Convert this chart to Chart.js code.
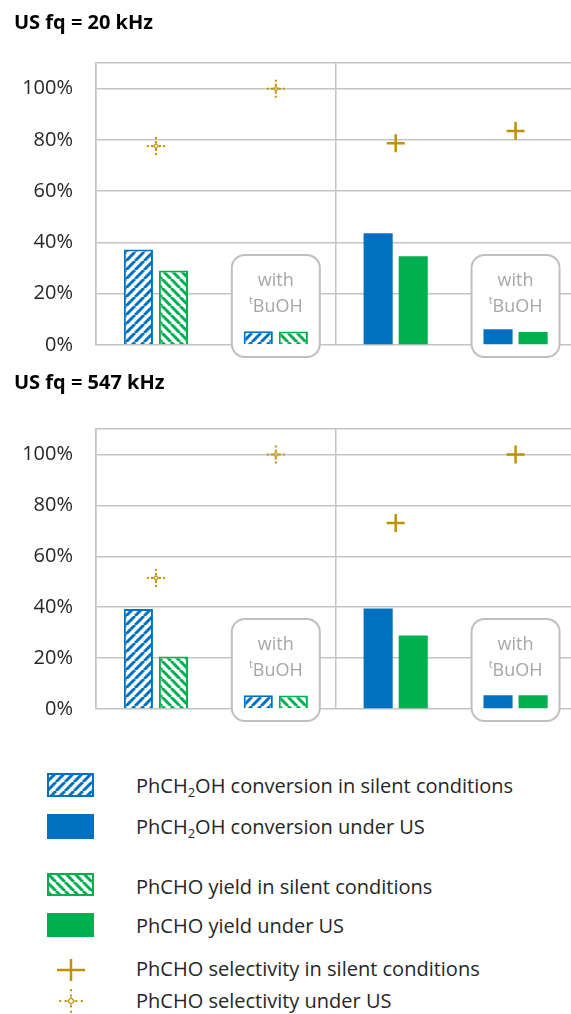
<!DOCTYPE html>
<html><head><meta charset="utf-8">
<script src="https://cdn.jsdelivr.net/npm/chart.js@4"></script>
<style>
html,body{margin:0;padding:0;background:#fff;width:571px;height:1014px;overflow:hidden;position:relative;}
.wrap{position:absolute;left:0;width:587px;}
#w1{top:0;height:380px;}
#w2{top:364px;height:380px;}
.lg-text{position:absolute;left:136px;transform:translateY(-50%);white-space:nowrap;font-family:'Open Sans',sans-serif;font-size:20px;color:#262626;line-height:1;}
.lg-text sub{font-size:13px;vertical-align:-4px;line-height:0;}
.sw{position:absolute;}
</style></head><body>
<div class="wrap" id="w1"><canvas id="c1"></canvas></div>
<div class="wrap" id="w2"><canvas id="c2"></canvas></div>
<div id="legend"></div>
<script>
// ---------- data ----------
const categories = ['silent', 'silent + tBuOH', 'US', 'US + tBuOH'];
const yTickValues = [0, 20, 40, 60, 80, 100];
const titles = ['US fq = 20 kHz', 'US fq = 547 kHz'];
const conv20  = [37.3, 5.4, 43.6, 6.1];
const yield20 = [29.1, 5.3, 34.6, 5.1];
const sel20   = [77.6, 100, 78.7, 83.5];
const conv547  = [39.3, 5.4, 39.5, 5.4];
const yield547 = [20.6, 5.3, 28.9, 5.4];
const sel547   = [51.5, 100, 73.1, 100];
const hatchedGroups = [true, true, false, false];
const boxGroups = [1, 3];
const legendLabels = [
  'PhCH<sub>2</sub>OH conversion in silent conditions',
  'PhCH<sub>2</sub>OH conversion under US',
  'PhCHO yield in silent conditions',
  'PhCHO yield under US',
  'PhCHO selectivity in silent conditions',
  'PhCHO selectivity under US'
];

// ---------- styles ----------
const BLUE = '#0070C0', GREEN = '#00B050', GOLD = '#BF9000', GRID = '#C4C4C4';
const FONT = "'Open Sans', sans-serif";

function makeHatchTile(color, up) {
  const s = 9, c = document.createElement('canvas'); c.width = s; c.height = s;
  const g = c.getContext('2d');
  g.fillStyle = '#fff'; g.fillRect(0, 0, s, s);
  g.strokeStyle = color; g.lineWidth = 3;
  g.beginPath();
  for (const k of [-s, 0, s]) {
    if (up) { g.moveTo(k, s); g.lineTo(k + s, 0); }
    else { g.moveTo(k, 0); g.lineTo(k + s, s); }
  }
  g.stroke();
  return c;
}
const tmpCtx = document.createElement('canvas').getContext('2d');
const patBlue = tmpCtx.createPattern(makeHatchTile(BLUE, true), 'repeat');
const patGreen = tmpCtx.createPattern(makeHatchTile(GREEN, false), 'repeat');

function makeDotted(sc) {
  const n = Math.round(22 * sc), c = document.createElement('canvas'); c.width = n; c.height = n;
  const g = c.getContext('2d'), m = n / 2;
  g.fillStyle = GOLD;
  for (const d of [4, 8]) for (const sg of [-1, 1]) {
    g.fillRect(m + sg * d * sc - 1, m - 1, 2, 2);
    g.fillRect(m - 1, m + sg * d * sc - 1, 2, 2);
  }
  g.strokeStyle = GOLD; g.lineWidth = 1.2;
  const r = 2.4 * sc;
  g.beginPath(); g.moveTo(m, m - r); g.lineTo(m + r, m); g.lineTo(m, m + r); g.lineTo(m - r, m); g.closePath(); g.stroke();
  return c;
}
const dottedImg = makeDotted(1);

const tbuohBox = {
  id: 'tbuohBox',
  beforeDatasetsDraw(chart) {
    const { ctx, scales: { x, y } } = chart;
    const y0 = y.getPixelForValue(0);
    boxGroups.forEach(i => {
      const cx = x.getPixelForValue(i);
      const w = 88, top = y0 - 90, bottom = y0 + 12;
      ctx.save();
      ctx.beginPath();
      ctx.roundRect(cx - w / 2, top, w, bottom - top, 13);
      ctx.fillStyle = '#fff'; ctx.fill();
      ctx.lineWidth = 2; ctx.strokeStyle = '#BFBFBF'; ctx.stroke();
      ctx.fillStyle = '#A6A6A6';
      ctx.textBaseline = 'middle';
      ctx.font = '18px ' + FONT;
      ctx.textAlign = 'center';
      ctx.fillText('with', cx, top + 26);
      const small = '11px ' + FONT, big = '18px ' + FONT;
      ctx.font = small; const wt = ctx.measureText('t').width;
      ctx.font = big; const wb = ctx.measureText('BuOH').width;
      const sx = cx - (wt + wb) / 2;
      ctx.textAlign = 'left';
      ctx.font = small; ctx.fillText('t', sx, top + 46);
      ctx.font = big; ctx.fillText('BuOH', sx + wt, top + 52);
      ctx.restore();
    });
  }
};

function makeChart(id, title, conv, yld, sel, titlePadTop, titlePadBottom) {
  return new Chart(document.getElementById(id), {
    type: 'bar',
    data: {
      labels: categories,
      datasets: [
        {
          type: 'line', label: 'PhCHO selectivity', data: sel, showLine: false, order: 0,
          pointStyle: ctx => hatchedGroups[ctx.dataIndex] ? dottedImg : 'cross',
          pointRadius: 9, pointHoverRadius: 9, borderColor: GOLD, backgroundColor: GOLD, pointBorderWidth: 2.5
        },
        {
          label: 'PhCH2OH conversion', data: conv, order: 1,
          backgroundColor: ctx => hatchedGroups[ctx.dataIndex] ? patBlue : BLUE,
          borderColor: BLUE, borderWidth: ctx => hatchedGroups[ctx.dataIndex] ? 2 : 0,
          barPercentage: 0.83, categoryPercentage: 0.585
        },
        {
          label: 'PhCHO yield', data: yld, order: 1,
          backgroundColor: ctx => hatchedGroups[ctx.dataIndex] ? patGreen : GREEN,
          borderColor: GREEN, borderWidth: ctx => hatchedGroups[ctx.dataIndex] ? 2 : 0,
          barPercentage: 0.83, categoryPercentage: 0.585
        }
      ]
    },
    options: {
      responsive: true, maintainAspectRatio: false, animation: false, devicePixelRatio: 1,
      layout: { padding: { left: 14, right: 0, top: 0, bottom: 1 } },
      plugins: {
        legend: { display: false }, tooltip: { enabled: false },
        title: {
          display: true, text: title, align: 'start', color: '#000',
          font: { family: FONT, size: 20, weight: 'bold', lineHeight: 1.2 },
          padding: { top: titlePadTop, bottom: titlePadBottom }
        }
      },
      scales: {
        x: {
          type: 'category', offset: true,
          ticks: { display: false },
          grid: { offset: true, drawTicks: false, lineWidth: 1.5,
                  color: c => (c.index % 2 === 0 ? GRID : 'rgba(0,0,0,0)') },
          border: { display: false },
          afterFit: s => { s.height = 0; }
        },
        y: {
          min: 0, max: 110,
          ticks: {
            stepSize: 20, padding: 23, color: '#262626',
            font: { family: FONT, size: 20 },
            callback: v => yTickValues.includes(v) ? v + '%' : ''
          },
          grid: { drawTicks: false, color: GRID, lineWidth: 1.5 },
          border: { display: true, color: GRID, width: 1.5 },
          afterFit: s => { s.width = 82; }
        }
      }
    },
    plugins: [tbuohBox]
  });
}

makeChart('c1', titles[0], conv20, yield20, sel20, 11, 28);
makeChart('c2', titles[1], conv547, yield547, sel547, 7, 34);

// ---------- legend ----------
(function () {
  const L = document.getElementById('legend');
  const rows = [
    { kind: 'hatchBlue', sy: 773, sh: 24, ty: 786 },
    { kind: 'solidBlue', sy: 814, sh: 25, ty: 827 },
    { kind: 'hatchGreen', sy: 873, sh: 23, ty: 887 },
    { kind: 'solidGreen', sy: 913, sh: 24, ty: 926 },
    { kind: 'plus', sy: 959, sh: 22, ty: 969 },
    { kind: 'dotted', sy: 987, sh: 28, ty: 1001 }
  ];
  rows.forEach((r, i) => {
    const c = document.createElement('canvas');
    c.className = 'sw';
    const w = r.kind === 'plus' || r.kind === 'dotted' ? 30 : 47;
    c.width = w; c.height = r.sh;
    c.style.left = (r.kind === 'plus' || r.kind === 'dotted' ? 56 : 47) + 'px';
    c.style.top = r.sy + 'px';
    const g = c.getContext('2d');
    if (r.kind === 'hatchBlue' || r.kind === 'hatchGreen') {
      const col = r.kind === 'hatchBlue' ? BLUE : GREEN;
      g.fillStyle = r.kind === 'hatchBlue' ? patBlue : patGreen;
      g.fillRect(0, 0, w, r.sh);
      g.strokeStyle = col; g.lineWidth = 2; g.strokeRect(1, 1, w - 2, r.sh - 2);
    } else if (r.kind === 'solidBlue' || r.kind === 'solidGreen') {
      g.fillStyle = r.kind === 'solidBlue' ? BLUE : GREEN;
      g.fillRect(0, 0, w, r.sh);
    } else if (r.kind === 'plus') {
      g.strokeStyle = GOLD; g.lineWidth = 2.5;
      g.beginPath(); g.moveTo(1, r.sh / 2); g.lineTo(w - 1, r.sh / 2);
      g.moveTo(w / 2, 0); g.lineTo(w / 2, r.sh); g.stroke();
    } else {
      const img = makeDotted(1.35);
      g.drawImage(img, (w - img.width) / 2, (r.sh - img.height) / 2);
    }
    L.appendChild(c);
    const t = document.createElement('div');
    t.className = 'lg-text';
    t.style.top = r.ty + 'px';
    t.innerHTML = legendLabels[i];
    L.appendChild(t);
  });
})();
</script>
</body></html>
